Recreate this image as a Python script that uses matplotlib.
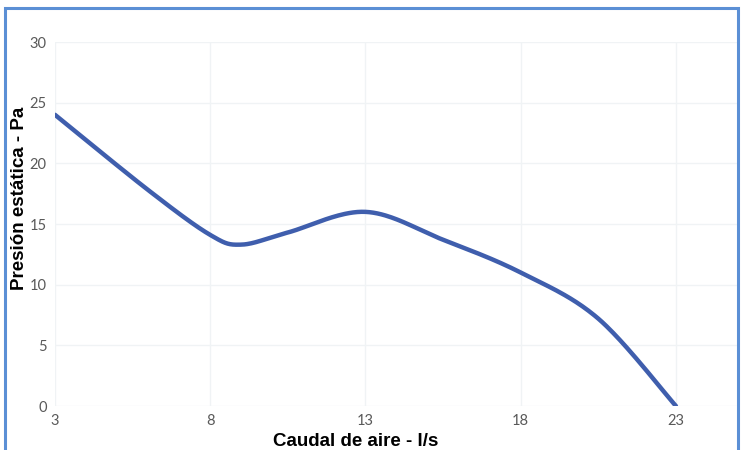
import numpy as np
import matplotlib
matplotlib.use("Agg")
import matplotlib.pyplot as plt
from matplotlib.patches import Rectangle

# Static pressure curve of the fan
caudal = [3, 6, 8, 9, 10.5, 13, 15.5, 18, 20.5, 23]           # l/s
presion = [24, 17.8, 14.1, 13.3, 14.3, 16, 13.7, 11, 7.2, 0]  # Pa

x_ticks = [3, 8, 13, 18, 23]
y_ticks = [0, 5, 10, 15, 20, 25, 30]


def smooth(xs, ys, n=40):
    """Bezier smoothing that passes through every data point."""
    pts = np.column_stack([xs, ys]).astype(float)
    p = np.vstack([pts[0], pts, pts[-1]])
    out = []
    t = np.linspace(0, 1, n)[:, None]
    for i in range(1, len(p) - 2):
        p0, p1, p2, p3 = p[i - 1], p[i], p[i + 1], p[i + 2]
        c1 = p1 + (p2 - p0) / 6
        c2 = p2 - (p3 - p1) / 6
        seg = ((1 - t) ** 3) * p1 + 3 * ((1 - t) ** 2) * t * c1 \
            + 3 * (1 - t) * t ** 2 * c2 + t ** 3 * p2
        out.append(seg if i == 1 else seg[1:])
    out = np.vstack(out)
    return out[:, 0], out[:, 1]


fig = plt.figure(figsize=(7.41, 4.5), dpi=100)
ax = fig.add_axes([55 / 741, 1 - 406 / 450, (738 - 55) / 741, (406 - 42) / 450])
ax.set_xlim(3, 25)
ax.set_ylim(0, 30)

sx, sy = smooth(caudal, presion)
ax.plot(sx, sy, color="#3F5EAD", lw=3.2, solid_capstyle="round", zorder=3)

ax.set_xticks(x_ticks)
ax.set_yticks(y_ticks)
ax.grid(True, color="#F0F3F5", lw=1)
for s in ax.spines.values():
    s.set_visible(False)
ax.tick_params(length=0, labelsize=10.5, labelcolor="#595959", pad=6)
for lab in ax.get_xticklabels() + ax.get_yticklabels():
    lab.set_family("Lato")

ax.set_xlabel("Caudal de aire - l/s", fontsize=13.5, fontweight="bold",
              family="Liberation Sans")
ax.set_ylabel("Presión estática - Pa", fontsize=13.5, fontweight="bold",
              family="Liberation Sans")
ax.yaxis.set_label_coords(-27 / 683, 0.57)
ax.xaxis.set_label_coords(0.44, -27 / 364)

# outer chart frame
fig.patches.append(Rectangle((5 / 741, -0.05), (738 - 5) / 741, 1.05 - 8 / 450,
                             transform=fig.transFigure, fill=False,
                             edgecolor="#5B8FD5", lw=2.2, clip_on=False))

fig.savefig("out.png", dpi=100)
